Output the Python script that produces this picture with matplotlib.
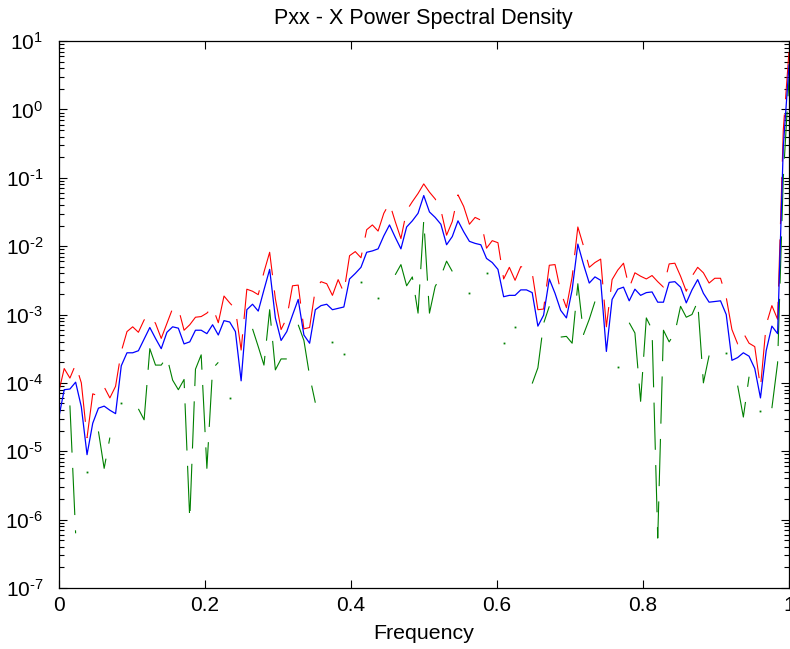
import numpy as np
import matplotlib
matplotlib.use('Agg')
import matplotlib.pyplot as plt
from matplotlib.ticker import LogLocator, NullFormatter, FuncFormatter, FixedLocator

plt.rcParams['font.family'] = ['Liberation Sans', 'DejaVu Sans']
plt.rcParams['mathtext.fontset'] = 'custom'
plt.rcParams['mathtext.rm'] = 'Liberation Sans'
plt.rcParams['mathtext.default'] = 'regular'
plt.rcParams['axes.unicode_minus'] = False
plt.rcParams['lines.scale_dashes'] = False

nan = np.nan

# normalised frequency grid (129 bins, 0..1)
freq = np.linspace(0.0, 1.0, 129)

# log10 of the PSD estimate (blue)
pxx_log = [-4.53, -4.10, -4.09, -3.99, -4.35, -5.05, -4.59, -4.37, -4.34, -4.40,
           -4.45, -3.75, -3.56, -3.56, -3.53, -3.36, -3.19, -3.35, -3.50, -3.26,
           -3.18, -3.20, -3.43, -3.40, -3.23, -3.23, -3.28, -3.15, -3.30, -3.09,
           -3.11, -3.25, -3.97, -2.93, -2.85, -2.95, -2.64, -2.34, -3.05, -3.38,
           -3.25, -3.01, -2.78, -3.30, -3.42, -2.93, -2.87, -2.85, -2.93, -2.91,
           -2.89, -2.48, -2.40, -2.31, -2.09, -2.07, -2.04, -1.85, -1.69, -1.87,
           -2.04, -1.72, -1.63, -1.52, -1.26, -1.50, -1.58, -1.68, -1.98, -1.86,
           -1.63, -1.79, -1.93, -1.96, -1.98, -2.18, -2.24, -2.34, -2.74, -2.72,
           -2.72, -2.64, -2.64, -2.68, -3.17, -3.01, -2.48, -2.69, -2.94, -3.05,
           -2.64, -1.97, -2.27, -2.54, -2.45, -2.50, -3.54, -2.78, -2.63, -2.60,
           -2.80, -2.63, -2.72, -2.68, -2.67, -2.82, -2.82, -2.53, -2.52, -2.60,
           -2.83, -2.64, -2.49, -2.69, -2.82, -2.81, -2.80, -3.00, -3.67, -3.63,
           -3.56, -3.61, -3.79, -4.22, -3.53, -3.17, -3.28, -0.55, 0.65]

# log10 of the upper bound (red)
upper_log = [-4.15, -3.79, -3.93, -3.73, -4.00, -4.80, -4.16, -4.19, -4.06, -4.22,
             -4.05, -3.54, -3.25, -3.18, -3.26, -3.08, -3.01, -3.13, -3.35, -3.13,
             -2.91, -2.91, -3.23, -3.15, -3.04, -3.03, -2.98, -2.89, -3.12, -2.73,
             -2.83, -2.92, -3.52, -2.63, -2.66, -2.71, -2.38, -2.09, -2.77, -3.22,
             -3.05, -2.58, -2.57, -3.21, -3.19, -2.63, -2.52, -2.55, -2.72, -2.49,
             -2.68, -2.14, -2.08, -2.17, -1.76, -1.69, -1.78, -1.52, -1.37, -1.64,
             -1.89, -1.48, -1.35, -1.23, -1.09, -1.21, -1.31, -1.47, -1.84, -1.64,
             -1.25, -1.42, -1.68, -1.58, -1.62, -2.03, -1.92, -1.95, -2.48, -2.31,
             -2.50, -2.30, -2.32, -2.39, -2.93, -2.92, -2.28, -2.27, -2.67, -2.90,
             -2.45, -1.72, -2.00, -2.31, -2.24, -2.19, -3.18, -2.49, -2.35, -2.25,
             -2.61, -2.39, -2.44, -2.48, -2.43, -2.52, -2.60, -2.26, -2.25, -2.44,
             -2.66, -2.44, -2.31, -2.39, -2.54, -2.47, -2.47, -2.75, -3.22, -3.43,
             -3.27, -3.42, -3.47, -4.07, -3.15, -2.87, -3.07, -0.30, 0.85]

# log10 of the lower bound (green), nan where the bound is not positive
lower_log = [nan, nan, -4.33, -6.20, nan, -5.31, nan, -4.71, -5.25, -4.80,
             nan, -4.30, nan, nan, -4.38, -4.54, -3.50, -3.74, -3.74, -3.62,
             -3.96, -4.10, -3.95, -6.00, -3.80, -3.59, -5.25, -3.79, -3.70, nan,
             -4.22, nan, nan, nan, -3.21, -3.47, -3.74, -2.93, -3.81, -3.65,
             -3.65, nan, -3.15, -3.38, -3.90, -4.29, nan, nan, -3.40, nan,
             -3.58, nan, nan, -2.53, nan, nan, -2.76, nan, nan, -2.42,
             -2.27, -2.58, -2.45, -2.98, -1.62, -2.98, -2.59, -2.44, -2.22, -2.37,
             nan, nan, -2.69, nan, nan, -2.40, nan, nan, -3.42, nan,
             -3.19, nan, nan, -4.01, -3.78, -3.13, -2.88, nan, -3.33, -3.32,
             -3.42, -2.55, -3.29, -3.07, -2.81, nan, nan, nan, -3.77, nan,
             -3.12, -3.27, -4.27, -3.05, -3.22, -6.27, -3.23, -3.40, -3.27, -2.88,
             -3.04, -3.00, -2.81, -4.00, -3.60, nan, nan, -3.56, nan, -4.04,
             -4.50, -3.91, nan, -4.41, nan, -4.37, -3.71, -1.00, 0.45]

pxx = 10.0 ** np.array(pxx_log)
upper = 10.0 ** np.array(upper_log)
lower = 10.0 ** np.array(lower_log)

fig = plt.figure(figsize=(7.9, 6.49), dpi=100)
ax = fig.add_axes([58.5 / 790, 61 / 649, 730.5 / 790, 547 / 649])

dash = (34, 11)
ax.plot(freq, upper, color='r', lw=0.8, dashes=dash)
ax.plot(freq, lower, color=(0, 0.5, 0), lw=0.8, dashes=dash)

# single valid points between gaps still show as a dot
fin = np.isfinite(lower)
prev_ok = np.r_[False, fin[:-1]]
next_ok = np.r_[fin[1:], False]
iso = fin & ~prev_ok & ~next_ok
ax.plot(freq[iso], lower[iso], ls='none', marker='s', ms=1.3, mew=0,
        color=(0, 0.5, 0))

ax.plot(freq, pxx, color='b', lw=0.9)

ax.set_yscale('log')
ax.set_xlim(0, 1)
ax.set_ylim(1e-7, 1e1)

ax.xaxis.set_major_locator(FixedLocator([0, 0.2, 0.4, 0.6, 0.8, 1.0]))
ax.xaxis.set_major_formatter(FuncFormatter(lambda v, p: '%g' % v))
ax.yaxis.set_major_locator(LogLocator(base=10, numticks=20))
ax.yaxis.set_minor_locator(LogLocator(base=10, subs=np.arange(2, 10), numticks=20))
ax.yaxis.set_minor_formatter(NullFormatter())


def sci(v, pos):
    e = int(round(np.log10(v)))
    return r'$10^{\text{%d}}$' % e


ax.yaxis.set_major_formatter(FuncFormatter(sci))

ax.tick_params(which='both', direction='in', top=True, right=True, width=0.8)
ax.tick_params(which='major', length=6, labelsize=15)
ax.tick_params(axis='y', which='major', pad=11)
ax.tick_params(axis='x', which='major', pad=6)
ax.tick_params(which='minor', length=3.5)
for s in ax.spines.values():
    s.set_linewidth(0.9)

ax.set_title('Pxx - X Power Spectral Density', fontsize=15.5, pad=12)
ax.set_xlabel('Frequency', fontsize=15.4, labelpad=6)

fig.savefig('out.png', dpi=100)
